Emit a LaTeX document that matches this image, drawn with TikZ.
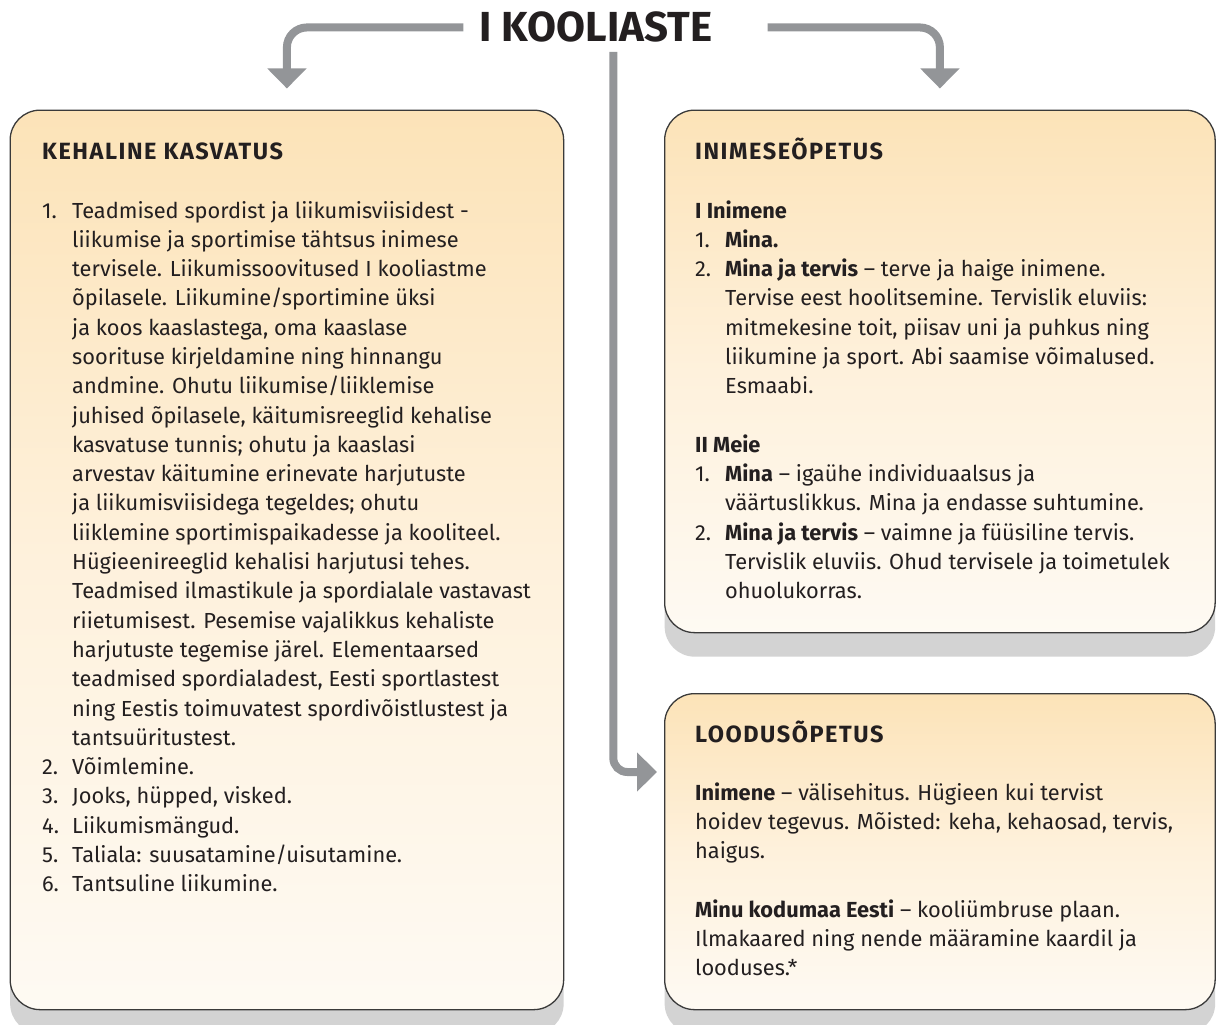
\documentclass[tikz,border=0pt]{standalone}
\usepackage{fontspec}
\setmainfont{Fira Sans}
\newfontfamily\headfont[LetterSpace=6.5]{Fira Sans}
\usetikzlibrary{arrows.meta,calc,shadows}

\definecolor{arrowgray}{HTML}{939598}
\definecolor{boxtop}{HTML}{FCE3B8}
\definecolor{boxmid}{HTML}{FEF1DC}
\definecolor{boxbot}{HTML}{FEFAF3}
\definecolor{shadowgray}{HTML}{D3D3D3}
\definecolor{edge}{HTML}{3A3A3A}
\definecolor{ink}{HTML}{231F20}

\newcommand\bodysize{\fontsize{21.8}{29.3}\selectfont}

\tikzset{
  panel/.style={draw=edge, line width=1.3pt, rounded corners=30pt,
    top color=boxtop, bottom color=boxbot, middle color=boxmid,
    general shadow={fill=shadowgray, shadow yshift=-24pt},
    anchor=north west, inner sep=0pt},
  flow/.style={draw=arrowgray, line width=8pt, rounded corners=20pt,
    -{Triangle[width=38pt,length=20pt]}},
  head/.style={anchor=base west, inner sep=0pt, text=ink,
    font=\headfont\fontsize{23.5}{29.3}\selectfont\bfseries},
  body/.style={anchor=base west, inner sep=0pt, text=ink, font=\bodysize},
}

\begin{document}
\begin{tikzpicture}[x=1pt,y=-1pt]
\useasboundingbox (0,0) rectangle (1216,1025);
\clip (0,0) rectangle (1216,1025);

% the three subject panels
\node[panel, minimum width=553.5pt, minimum height=899.5pt] (kk) at (9.5,109.5) {};
\node[panel, minimum width=550.5pt, minimum height=522.5pt] (rt) at (664,109.5) {};
\node[panel, minimum width=550.5pt, minimum height=316pt] (lo) at (664,693) {};

% title
\node[anchor=base, inner sep=0pt, text=ink,
      font=\bfseries\fontsize{42}{42}\selectfont] (title) at (596,42) {I KOOLIASTE};
\coordinate (hub) at ($(title.south)+(17.3,9)$);

% connectors
\draw[flow] ([xshift=-16pt]title.west) -| ($(kk.north)+(0,-21)$);
\draw[flow] ([xshift=55pt]title.east) -| ($(rt.north)+(0,-21)$);
\draw[flow, rounded corners=14pt, shorten >=7pt] (hub) |- ($(lo.north west)+(0,79)$);

% KEHALINE KASVATUS
\node[head] (kkh) at (42,159.5) {KEHALINE KASVATUS};
\node[body] (kkb) at (42,218) {\begin{tabular}[t]{@{}p{30pt}@{}l@{}}
1. & Teadmised spordist ja liikumisviisidest -\\
   & liikumise ja sportimise tähtsus inimese\\
   & tervisele. Liikumissoovitused I kooliastme\\
   & õpilasele. Liikumine/sportimine üksi\\
   & ja koos kaaslastega, oma kaaslase\\
   & soorituse kirjeldamine ning hinnangu\\
   & andmine. Ohutu liikumise/liiklemise\\
   & juhised õpilasele, käitumisreeglid kehalise\\
   & kasvatuse tunnis; ohutu ja kaaslasi\\
   & arvestav käitumine erinevate harjutuste\\
   & ja liikumisviisidega tegeldes; ohutu\\
   & liiklemine sportimispaikadesse ja kooliteel.\\
   & Hügieenireeglid kehalisi harjutusi tehes.\\
   & Teadmised ilmastikule ja spordialale vastavast\\
   & riietumisest. Pesemise vajalikkus kehaliste\\
   & harjutuste tegemise järel. Elementaarsed\\
   & teadmised spordialadest, Eesti sportlastest\\
   & ning Eestis toimuvatest spordivõistlustest ja\\
   & tantsuüritustest.\\
2. & Võimlemine.\\
3. & Jooks, hüpped, visked.\\
4. & Liikumismängud.\\
5. & Taliala: suusatamine/uisutamine.\\
6. & Tantsuline liikumine.
\end{tabular}};

% INIMESEÕPETUS
\node[head] (rth) at (695,159.5) {INIMESEÕPETUS};
\node[body] (rtb) at (695,218) {\begin{tabular}[t]{@{}p{30pt}@{}l@{}}
\multicolumn{2}{@{}l@{}}{\textbf{I Inimene}}\\
1. & \textbf{Mina.}\\
2. & \textbf{Mina ja tervis} – terve ja haige inimene.\\
   & Tervise eest hoolitsemine. Tervislik eluviis:\\
   & mitmekesine toit, piisav uni ja puhkus ning\\
   & liikumine ja sport. Abi saamise võimalused.\\
   & Esmaabi.\\
   & \\
\multicolumn{2}{@{}l@{}}{\textbf{II Meie}}\\
1. & \textbf{Mina} – igaühe individuaalsus ja\\
   & väärtuslikkus. Mina ja endasse suhtumine.\\
2. & \textbf{Mina ja tervis} – vaimne ja füüsiline tervis.\\
   & Tervislik eluviis. Ohud tervisele ja toimetulek\\
   & ohuolukorras.
\end{tabular}};

% LOODUSÕPETUS
\node[head] (loh) at (695,742) {LOODUSÕPETUS};
\node[body] (lob) at (695,800) {\begin{tabular}[t]{@{}l@{}}
\textbf{Inimene} – välisehitus. Hügieen kui tervist\\
hoidev tegevus. Mõisted: keha, kehaosad, tervis,\\
haigus.\\
\\
\textbf{Minu kodumaa Eesti} – kooliümbruse plaan.\\
Ilmakaared ning nende määramine kaardil ja\\
looduses.*
\end{tabular}};
\end{tikzpicture}
\end{document}
